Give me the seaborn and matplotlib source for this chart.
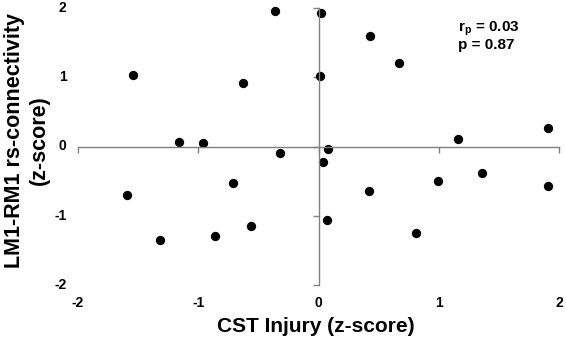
import numpy as np
import seaborn as sns
import matplotlib.pyplot as plt
import matplotlib.transforms as mtransforms

# valores
cst_injury = [-0.36, -1.54, -0.63, -1.16, -0.96, -0.32, -1.59, -0.71, -1.32, -0.86, -0.56,
              0.02, 0.01, 0.43, 0.67, 0.08, 0.04, 0.07, 0.42, 0.99, 0.81, 1.16, 1.36, 1.91, 1.91]
rs_conn = [1.96, 1.03, 0.91, 0.06, 0.05, -0.10, -0.70, -0.53, -1.35, -1.29, -1.15,
           1.93, 1.02, 1.59, 1.20, -0.04, -0.22, -1.06, -0.64, -0.50, -1.25, 0.11, -0.38, 0.27, -0.57]
ticks = [-2, -1, 0, 1, 2]

sns.set_style("white")
plt.rcParams['font.family'] = ['Liberation Sans', 'DejaVu Sans']
plt.rcParams['text.color'] = 'black'

fig = plt.figure(figsize=(5.66, 3.43), dpi=100)
ax = fig.add_axes([78 / 566, 1 - 285 / 343, 481 / 566, 277 / 343])

sns.scatterplot(x=cst_injury, y=rs_conn, color="black", s=45, edgecolor="black",
                linewidth=0, ax=ax, clip_on=False)

ax.set_xlim(-2, 2)
ax.set_ylim(-2, 2)
ax.set_xticks(ticks)
ax.set_yticks(ticks)

# ejes cruzando en cero (estilo Excel)
for side in ["top", "right"]:
    ax.spines[side].set_visible(False)
for side in ["left", "bottom"]:
    ax.spines[side].set_position(("data", 0))
    ax.spines[side].set_color("#808080")
    ax.spines[side].set_linewidth(1.0)
ax.tick_params(axis="both", which="both", direction="out", length=4, width=1,
               color="#808080", labelleft=False, labelbottom=False,
               left=True, bottom=True)

# etiquetas de ticks fuera del area
ty = mtransforms.blended_transform_factory(ax.transAxes, ax.transData)
tx = mtransforms.blended_transform_factory(ax.transData, ax.transAxes)
for t in ticks:
    ax.text(-0.024, t, str(t), transform=ty, ha="right", va="center",
            fontsize=10, fontweight="bold")
    ax.text(t, -0.065, str(t), transform=tx, ha="center", va="center",
            fontsize=10, fontweight="bold")

fig.text(316 / 566, 1 - 326 / 343, "CST Injury (z-score)", ha="center", va="center",
         fontsize=15, fontweight="bold")
fig.text(27 / 566, 1 - 140 / 343, "LM1-RM1 rs-connectivity\n(z-score)", ha="center",
         va="center", rotation=90, fontsize=15.5, fontweight="bold", linespacing=1.2)

ax.text(0.79, 0.96, r"r$_\mathregular{p}$ = 0.03" + "\np = 0.87", transform=ax.transAxes,
        ha="left", va="top", fontsize=11, fontweight="bold", linespacing=1.05)

fig.savefig("out.png", dpi=100)
